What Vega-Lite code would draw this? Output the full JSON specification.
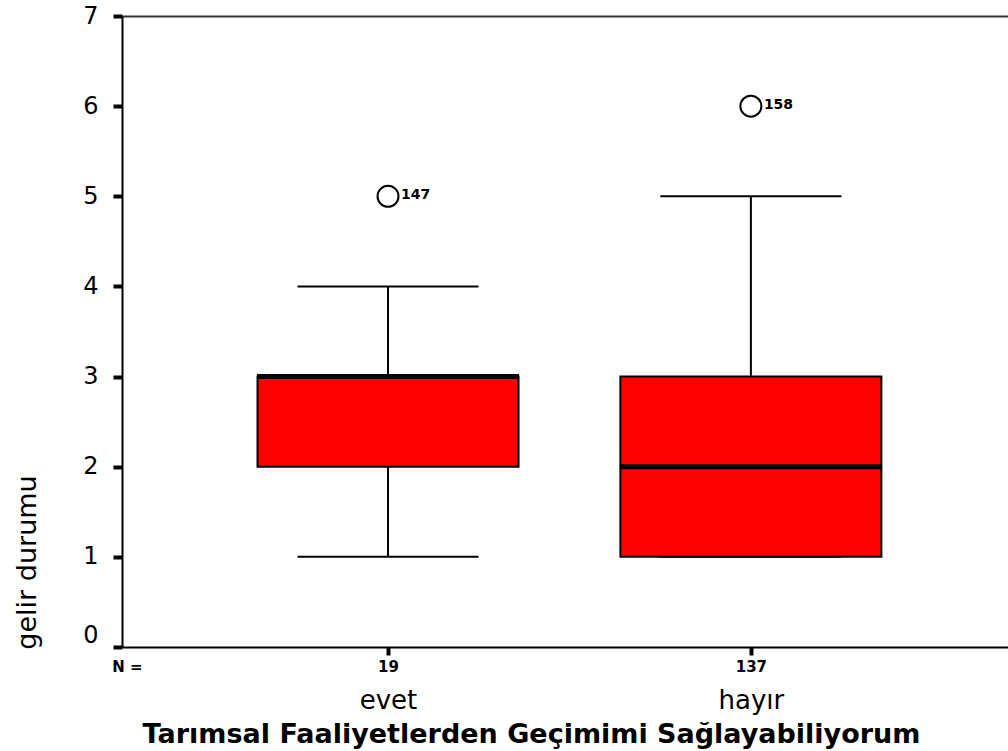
{
  "$schema": "https://vega.github.io/schema/vega-lite/v6.json",
  "width": 886,
  "height": 631,
  "autosize": {"type": "none"},
  "padding": {"left": 122, "top": 16, "right": 0, "bottom": 104},
  "background": "white",
  "config": {"view": {"stroke": null}, "axis": {"grid": false}},
  "datasets": {
    "ozet": [
      {"grup": "evet", "sira": 1, "n": 19, "min": 1, "q1": 2, "median": 3, "q3": 3, "max": 4},
      {"grup": "hayır", "sira": 2, "n": 137, "min": 1, "q1": 1, "median": 2, "q3": 3, "max": 5}
    ],
    "aykiri": [
      {"grup": "evet", "sira": 1, "deger": 5, "vaka": "147"},
      {"grup": "hayır", "sira": 2, "deger": 6, "vaka": "158"}
    ]
  },
  "resolve": {"axis": {"x": "independent"}},
  "layer": [
    {
      "data": {"name": "ozet"},
      "mark": {"type": "rule", "color": "black", "strokeWidth": 2, "opacity": 1},
      "encoding": {
        "x": {
          "field": "sira", "type": "quantitative",
          "scale": {"domain": [0.28065, 2.69482], "nice": false, "zero": false},
          "axis": {
            "orient": "bottom", "values": [0.28065, 1, 2],
            "labelExpr": "datum.value < 0.5 ? 'N =' : (datum.value < 1.5 ? '19' : '137')",
            "domain": true, "domainColor": "black", "domainWidth": 2,
            "ticks": true, "tickColor": "black", "tickSize": 8, "tickWidth": 4,
            "tickOpacity": {"condition": {"test": "datum.value < 0.5", "value": 0}, "value": 1},
            "labelFont": "DejaVu Sans", "labelFontSize": 15, "labelFontWeight": "bold",
            "labelColor": "black", "labelPadding": 4, "labelFlush": false, "labelOverlap": false,
            "title": null
          }
        },
        "y": {
          "field": "min", "type": "quantitative",
          "scale": {"domain": [0, 7], "nice": false, "zero": true},
          "axis": {
            "values": [0, 1, 2, 3, 4, 5, 6, 7], "format": "d",
            "domain": true, "domainColor": "black", "domainWidth": 2,
            "ticks": true, "tickColor": "black", "tickSize": 9, "tickWidth": 4,
            "labelFont": "DejaVu Sans", "labelFontSize": 24, "labelColor": "black",
            "labelPadding": 15,
            "labelBaseline": {"condition": {"test": "datum.value == 0", "value": "bottom"}, "value": "middle"},
            "title": "gelir durumu", "titleFont": "DejaVu Sans", "titleFontSize": 27,
            "titleFontWeight": "normal", "titleColor": "black",
            "titleAngle": 270, "titleAlign": "center", "titleBaseline": "middle",
            "titleX": -95, "titleY": 546
          }
        },
        "y2": {"field": "max"}
      }
    },
    {
      "data": {"name": "ozet"},
      "transform": [{"fold": ["min", "max"], "as": ["uc", "deger"]}],
      "mark": {"type": "tick", "orient": "horizontal", "color": "black", "opacity": 1, "size": 181, "thickness": 2},
      "encoding": {
        "x": {"field": "sira", "type": "quantitative", "axis": null},
        "y": {"field": "deger", "type": "quantitative"}
      }
    },
    {
      "data": {"name": "ozet"},
      "mark": {"type": "bar", "orient": "vertical", "size": 261, "color": "#ff0000", "opacity": 1, "stroke": "black", "strokeWidth": 2},
      "encoding": {
        "x": {"field": "sira", "type": "quantitative", "axis": null},
        "y": {"field": "q1", "type": "quantitative"},
        "y2": {"field": "q3"}
      }
    },
    {
      "data": {"name": "ozet"},
      "mark": {"type": "tick", "orient": "horizontal", "color": "black", "opacity": 1, "size": 262, "thickness": 5},
      "encoding": {
        "x": {"field": "sira", "type": "quantitative", "axis": null},
        "y": {"field": "median", "type": "quantitative"}
      }
    },
    {
      "data": {"name": "aykiri"},
      "mark": {"type": "point", "shape": "circle", "size": 440, "filled": false, "fill": "white", "fillOpacity": 1, "stroke": "black", "strokeWidth": 2, "opacity": 1},
      "encoding": {
        "x": {
          "field": "sira", "type": "quantitative",
          "axis": {
            "orient": "bottom", "offset": 40, "values": [1, 2],
            "labelExpr": "datum.value < 1.5 ? 'evet' : 'hayır'",
            "domain": false, "ticks": false, "tickSize": 0,
            "labelFont": "DejaVu Sans", "labelFontSize": 26, "labelColor": "black",
            "labelPadding": 0, "labelBaseline": "top", "labelFlush": false, "labelOverlap": false,
            "title": "Tarımsal Faaliyetlerden Geçimimi Sağlayabiliyorum",
            "titleFont": "DejaVu Sans", "titleFontSize": 27, "titleFontWeight": "bold",
            "titleColor": "black", "titleAlign": "center", "titleBaseline": "alphabetic",
            "titleX": 409, "titleY": 55
          }
        },
        "y": {"field": "deger", "type": "quantitative"}
      }
    },
    {
      "data": {"name": "aykiri"},
      "mark": {"type": "text", "align": "left", "baseline": "middle", "dx": 13, "dy": -1, "font": "DejaVu Sans", "fontSize": 14, "fontWeight": "bold", "color": "black"},
      "encoding": {
        "x": {
          "field": "sira", "type": "quantitative",
          "axis": {"orient": "top", "domain": true, "domainColor": "#333333", "domainWidth": 2, "ticks": false, "labels": false, "title": null}
        },
        "y": {"field": "deger", "type": "quantitative"},
        "text": {"field": "vaka"}
      }
    }
  ]
}
